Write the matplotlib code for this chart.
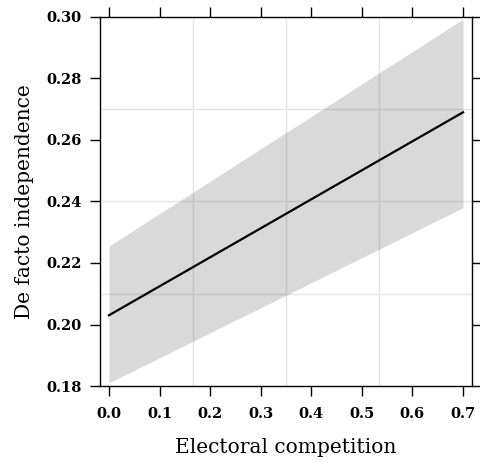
import numpy as np
import matplotlib
matplotlib.use("Agg")
import matplotlib.pyplot as plt

# effect of electoral competition on de facto independence
competition = [0.0, 0.7]
fit = [0.203, 0.269]
lower = [0.181, 0.238]
upper = [0.2255, 0.2993]

x_ticks = [0.0, 0.1, 0.2, 0.3, 0.4, 0.5, 0.6, 0.7]
y_ticks = [0.18, 0.20, 0.22, 0.24, 0.26, 0.28, 0.30]
x_grid = [0.166, 0.350, 0.534]
y_grid = [0.21, 0.24, 0.27]

plt.rcParams['font.family'] = ['DejaVu Serif']

fig = plt.figure(figsize=(4.81, 4.63), dpi=100)
ax = fig.add_axes([0.2079, 0.1663, 0.9813 - 0.2079, 0.9633 - 0.1663])

for g in x_grid:
    ax.axvline(g, color='#e5e5e5', lw=1.0, zorder=0)
for g in y_grid:
    ax.axhline(g, color='#e5e5e5', lw=1.0, zorder=0)

ax.fill_between(competition, lower, upper, color='black', alpha=0.15, lw=0, zorder=1)
ax.plot(competition, fit, color='black', lw=1.6, zorder=2)

ax.set_xlim(-0.0178, 0.7178)
ax.set_ylim(0.18, 0.30)
ax.set_xticks(x_ticks)
ax.set_yticks(y_ticks)
ax.set_xticklabels([f"{v:.1f}" for v in x_ticks])
ax.set_yticklabels([f"{v:.2f}" for v in y_ticks])

ax.tick_params(axis='both', direction='out', length=7, width=1.0,
               labelsize=10.5, top=True, right=True, colors='black')
ax.tick_params(axis='x', pad=8)
ax.tick_params(axis='y', pad=6)
for lab in ax.get_xticklabels() + ax.get_yticklabels():
    lab.set_fontweight('bold')
for s in ax.spines.values():
    s.set_linewidth(1.0)

ax.set_xlabel("Electoral competition", fontsize=14.5, labelpad=12)
ax.set_ylabel("De facto independence", fontsize=14.5, labelpad=9)

fig.savefig("out.png", dpi=100)
